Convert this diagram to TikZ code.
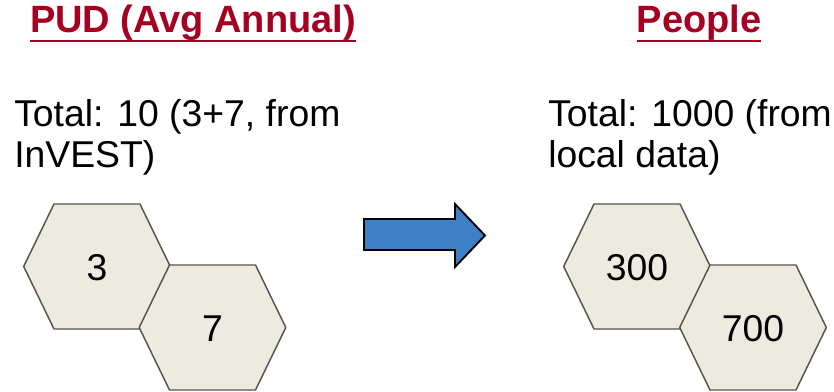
\documentclass[tikz,border=0pt]{standalone}
\usepackage{fontspec}
\setmainfont{Liberation Sans}
\usepackage{tikz}
\usetikzlibrary{positioning,calc}
\definecolor{titlered}{RGB}{165,0,33}
\definecolor{hexfill}{RGB}{237,235,224}
\definecolor{hexline}{RGB}{85,85,75}
\definecolor{arrowblue}{RGB}{62,127,198}
% underline drawn a bit below the baseline
\newcommand{\ttlul}[1]{\setbox0\hbox{#1}\rlap{\rule[-6.5pt]{\wd0}{1.6pt}}\box0}

\begin{document}
\begin{tikzpicture}[x=0.75pt, y=-0.75pt,
    ttl/.style={anchor=base, text=titlered, inner sep=0pt,
                font=\fontsize{28.5}{30}\selectfont\bfseries},
    txt/.style={anchor=base west, align=left, inner sep=0pt,
                font=\fontsize{28}{30.75}\selectfont},
    hexcell/.style={draw=hexline, line width=1.1pt, fill=hexfill, line join=round},
    val/.style={inner sep=0pt, font=\fontsize{28}{30}\selectfont},
    bigarrow/.style={draw=black, line width=1.4pt, fill=arrowblue, line join=miter}]
\useasboundingbox (0,0) rectangle (834,392);
\clip (0,0) rectangle (834,392);
% titles
\node[ttl] (pudttl) at (193,33) {\ttlul{PUD (Avg Annual)}};
\node[ttl] (pplttl) at (699,33) {\ttlul{People}};
% totals (base = last line)
\node[txt] (pudtot) at (14,167) {Total: 10 (3+7, from\\InVEST)};
\node[txt] (ppltot) at (548,167) {Total: 1000 (from\\local data)};
% hexagon cells
\foreach \nm/\cx/\cy/\num in {pa/97/266.5/3, pb/212.5/327.5/7, pc/637/266.5/300, pd/753/327.5/700}{
  \draw[hexcell] (\cx-73.3,\cy) -- (\cx-43,\cy-62.5) -- (\cx+43,\cy-62.5)
    -- (\cx+73.3,\cy) -- (\cx+43,\cy+62.5) -- (\cx-43,\cy+62.5) -- cycle;
  \node[val] (\nm) at (\cx,\cy+1.5) {\num};
}
% block arrow
\draw[bigarrow] (364,219) -- (455,219) -- (455,204) -- (485,235.5)
  -- (455,267) -- (455,250) -- (364,250) -- cycle;
\end{tikzpicture}
\end{document}
